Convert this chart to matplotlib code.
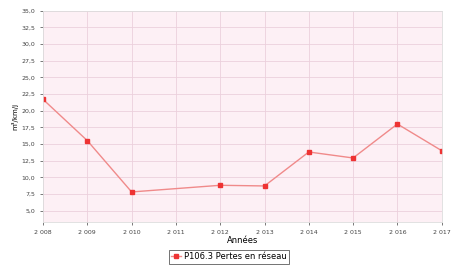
import matplotlib.pyplot as plt
from matplotlib.ticker import FuncFormatter

years = [2008, 2009, 2010, 2012, 2013, 2014, 2015, 2016, 2017]
pertes = [21.7, 15.5, 7.8, 8.8, 8.7, 13.8, 12.9, 18.0, 14.0]
year_ticks = list(range(2008, 2018))
y_ticks = [5.0, 7.5, 10.0, 12.5, 15.0, 17.5, 20.0, 22.5, 25.0, 27.5, 30.0, 32.5, 35.0]

fig = plt.figure(figsize=(4.53, 2.69), dpi=100)
ax = fig.add_axes([0.095, 0.175, 0.88, 0.785])
ax.set_facecolor('#fdf0f5')

ax.plot(years, pertes, color='#f08a8a', lw=1.0, marker='s', ms=3.5,
        mfc='#ee3333', mec='#ee3333', label='P106.3 Pertes en réseau')

ax.set_xlim(2008, 2017)
ax.set_ylim(3.3, 35)
ax.set_xticks(year_ticks)
ax.set_yticks(y_ticks)
ax.xaxis.set_major_formatter(FuncFormatter(lambda v, p: '%d %03d' % (int(v) // 1000, int(v) % 1000)))
ax.yaxis.set_major_formatter(FuncFormatter(lambda v, p: ('%.1f' % v).replace('.', ',')))
ax.tick_params(labelsize=4.5, length=2, width=0.5, colors='#444444')
ax.grid(True, color='#ecd0dc', lw=0.6)
for s in ax.spines.values():
    s.set_color('#dddddd')
    s.set_linewidth(0.6)

ax.set_xlabel('Années', fontsize=6, labelpad=1)
ax.set_ylabel('m³/km/j', fontsize=5, labelpad=2)

leg = fig.legend(loc='center', bbox_to_anchor=(0.505, 0.045), fontsize=6,
                 frameon=True, fancybox=False, edgecolor='#333333',
                 handlelength=1.2, borderpad=0.3, handletextpad=0.3)
leg.get_frame().set_linewidth(0.6)

fig.savefig('out.png', dpi=100)
